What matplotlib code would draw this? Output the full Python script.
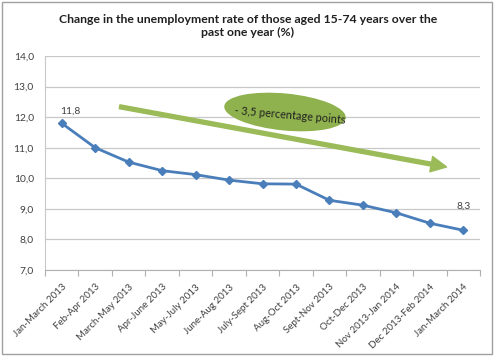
import matplotlib
matplotlib.use("Agg")
import matplotlib.pyplot as plt
from matplotlib.patches import Ellipse, Rectangle
from matplotlib.transforms import IdentityTransform

# DATA
periods = ["Jan-March 2013", "Feb-Apr 2013", "March-May 2013", "Apr-June 2013",
           "May-July 2013", "June-Aug 2013", "July-Sept 2013", "Aug-Oct 2013",
           "Sept-Nov 2013", "Oct-Dec 2013", "Nov 2013-Jan 2014",
           "Dec 2013-Feb 2014", "Jan-March 2014"]
rate = [11.8, 11.0, 10.53, 10.25, 10.12, 9.94, 9.82, 9.81, 9.28, 9.12, 8.87, 8.53, 8.3]
yticks = [7.0, 8.0, 9.0, 10.0, 11.0, 12.0, 13.0, 14.0]
title = "Change in the unemployment rate of those aged 15-74 years over the\npast one year (%)"
note = "- 3,5 percentage points"

# trend arrow (data coords): start -> end
arrow_start = (1.73, 12.34)
arrow_end = (11.5, 10.37)

plt.rcParams['font.family'] = ['Lato', 'DejaVu Sans']

fig = plt.figure(figsize=(4.96, 3.57), dpi=100)
fig.patch.set_facecolor("white")
ax = fig.add_axes([45/496, 1-270/357, 435/496, 214/357])

x = list(range(len(periods)))
ax.plot(x, rate, color="#4a7ebb", lw=2, marker="D", ms=4.5, zorder=3)

ax.set_xlim(-0.5, len(periods)-0.5)
ax.set_ylim(7, 14)
ax.set_yticks(yticks)
ax.set_yticklabels([f"{v:.1f}".replace(".", ",") for v in yticks], fontsize=7.4, color="#404040")
ax.grid(axis="y", color="#c8c8c8", lw=0.9)
ax.set_axisbelow(True)
ax.tick_params(axis="y", length=0, pad=8)

ax.set_xticks(x)
ax.set_xticklabels(periods, rotation=45, ha="right", va="top", rotation_mode="anchor",
                   fontsize=7, color="#404040")
ax.tick_params(axis="x", which="major", length=0, pad=9)
ax.set_xticks([i - 0.5 for i in range(len(periods)+1)], minor=True)
ax.tick_params(axis="x", which="minor", length=4, color="#b0b0b0", width=0.8)

for s in ["top", "right"]:
    ax.spines[s].set_visible(False)
ax.spines["left"].set_color("#c8c8c8")
ax.spines["bottom"].set_color("#b0b0b0")

# data labels
ax.annotate(f"{rate[0]:.1f}".replace(".", ","), (x[0], rate[0]), xytext=(6, 9),
            textcoords="offset points", ha="center", va="center", fontsize=7.4, color="#404040")
ax.annotate(f"{rate[-1]:.1f}".replace(".", ","), (x[-1], rate[-1]), xytext=(0, 17),
            textcoords="offset points", ha="center", va="center", fontsize=7.4, color="#404040")

# trend arrow
ax.annotate("", xy=arrow_end, xytext=arrow_start,
            arrowprops=dict(arrowstyle="simple,head_length=0.8,head_width=0.8,tail_width=0.2",
                            color="#9bbb59", mutation_scale=14, shrinkA=0, shrinkB=0),
            zorder=2)

# ellipse with note (pixel coords)
ell = Ellipse((285, 357-112), 122, 37, angle=-5.5, facecolor="#8fb24e",
              edgecolor="none", transform=IdentityTransform(), zorder=4)
fig.patches.append(ell)
fig.text(290/496, 1-115/357, note, ha="center", va="center", fontsize=7.8,
         rotation=-5, color="#202020", zorder=5)

fig.text(248/496, 1-26/357, title, ha="center", va="center", fontsize=8.8,
         fontweight="bold", linespacing=1.3, color="#202020")

fig.patches.append(Rectangle((2/496, 3/357), 490/496, 352/357, transform=fig.transFigure,
                             fill=False, edgecolor="#a0a0a0", lw=1))

fig.savefig("out.png", dpi=100)
